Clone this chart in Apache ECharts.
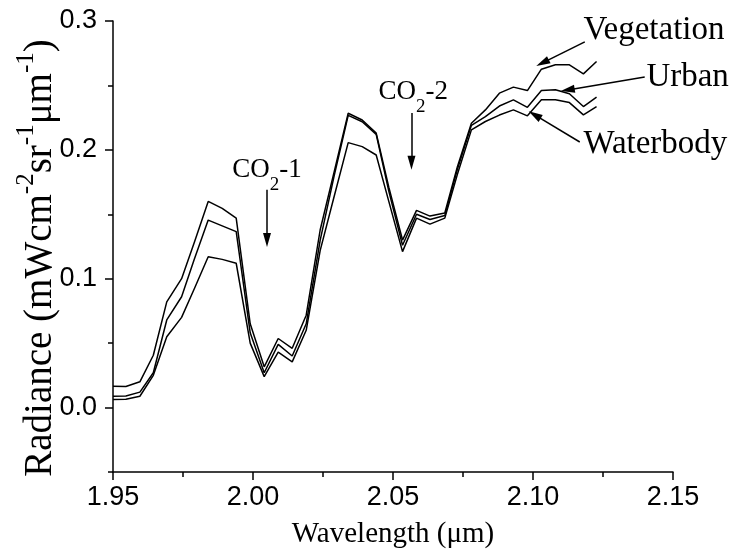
<!DOCTYPE html>
<html>
<head>
<meta charset="utf-8">
<script src="https://cdn.jsdelivr.net/npm/echarts@6/dist/echarts.min.js"></script>
<style>
  html, body { margin: 0; padding: 0; background: #fff; }
  #chart { width: 739px; height: 557px; }
</style>
</head>
<body>
<div id="chart"></div>
<script>
// Spectral samples (µm) and radiance per land-cover type
const wavelength = [1.9500, 1.9546, 1.9596, 1.9644, 1.9692, 1.9745, 1.9790, 1.9840, 1.9890, 1.9940,
                    1.9990, 2.0040, 2.0090, 2.0140, 2.0190, 2.0240, 2.0290, 2.0340, 2.0390, 2.0440,
                    2.0485, 2.0534, 2.0584, 2.0632, 2.0685, 2.0730, 2.0780, 2.0830, 2.0880, 2.0930,
                    2.0980, 2.1030, 2.1080, 2.1130, 2.1180, 2.1227];
const vegetation = [0.0166, 0.0163, 0.0200, 0.0406, 0.0820, 0.1000, 0.1280, 0.1600, 0.1546, 0.1470,
                    0.0650, 0.0316, 0.0536, 0.0460, 0.0717, 0.1380, 0.1830, 0.2284, 0.2232, 0.2130,
                    0.1710, 0.1300, 0.1530, 0.1486, 0.1510, 0.1870, 0.2207, 0.2310, 0.2440, 0.2487,
                    0.2460, 0.2626, 0.2660, 0.2660, 0.2590, 0.2686];
const urban      = [0.0088, 0.0090, 0.0120, 0.0270, 0.0680, 0.0860, 0.1150, 0.1455, 0.1410, 0.1365,
                    0.0580, 0.0270, 0.0490, 0.0400, 0.0650, 0.1300, 0.1800, 0.2268, 0.2218, 0.2120,
                    0.1680, 0.1260, 0.1500, 0.1460, 0.1490, 0.1850, 0.2190, 0.2258, 0.2340, 0.2388,
                    0.2330, 0.2460, 0.2466, 0.2435, 0.2336, 0.2410];
const waterbody  = [0.0062, 0.0065, 0.0088, 0.0250, 0.0550, 0.0700, 0.0920, 0.1170, 0.1150, 0.1120,
                    0.0500, 0.0240, 0.0430, 0.0355, 0.0600, 0.1220, 0.1640, 0.2056, 0.2025, 0.1960,
                    0.1600, 0.1210, 0.1470, 0.1424, 0.1470, 0.1810, 0.2155, 0.2220, 0.2270, 0.2310,
                    0.2264, 0.2388, 0.2388, 0.2367, 0.2271, 0.2336];

// Axis ticks
const xTickLabels = [1.95, 2.00, 2.05, 2.10, 2.15];
const yMajorTicks = [0.0, 0.1, 0.2, 0.3];
const yMinorTicks = [-0.05, 0.05, 0.15, 0.25];

// Annotations: text anchors and arrows (data coordinates)
const bandLabels = [
  { text: '{m|CO}{s|2}{m|-1}', at: [2.0050, 0.1800] },
  { text: '{m|CO}{s|2}{m|-2}', at: [2.0572, 0.2410] }
];
const seriesLabels = [
  { text: 'Vegetation', at: [2.1180, 0.2930] },
  { text: 'Urban',      at: [2.1405, 0.2560] },
  { text: 'Waterbody',  at: [2.1180, 0.2040] }
];
const arrows = [
  [[2.0050, 0.1690], [2.0050, 0.1300]],
  [[2.0566, 0.2287], [2.0566, 0.1900]],
  [[2.1185, 0.2838], [2.1034, 0.2675]],
  [[2.1399, 0.2566], [2.1124, 0.2465]],
  [[2.1167, 0.2061], [2.1006, 0.2271]]
];

const SERIF = 'Liberation Serif';
const SANS = 'Liberation Sans';

const pairs = (ys) => wavelength.map((w, i) => [w, ys[i]]);

const chart = echarts.init(document.getElementById('chart'));

const lineSeries = (name, ys) => ({
  name: name,
  type: 'line',
  data: pairs(ys),
  symbol: 'none',
  lineStyle: { color: '#000', width: 1.5 },
  z: 3
});

const axisStroke = { color: '#000', width: 1.5 };

chart.setOption({
  animation: false,
  backgroundColor: '#fff',
  grid: { left: 113, right: 66, top: 21, bottom: 85, containLabel: false },
  xAxis: {
    type: 'value',
    min: 1.95,
    max: 2.15,
    interval: 0.05,
    axisLine: { onZero: false, lineStyle: axisStroke },
    axisTick: { inside: false, length: 8, lineStyle: axisStroke },
    minorTick: { show: true, splitNumber: 2, length: 5, lineStyle: axisStroke },
    splitLine: { show: false },
    minorSplitLine: { show: false },
    axisLabel: {
      color: '#000', fontFamily: SANS, fontSize: 27, margin: 12,
      showMinLabel: true, showMaxLabel: true,
      customValues: xTickLabels,
      formatter: (v) => v.toFixed(2)
    },
    name: 'Wavelength (μm)',
    nameLocation: 'middle',
    nameGap: 48,
    nameTextStyle: { color: '#000', fontFamily: SERIF, fontSize: 29 }
  },
  yAxis: [
    {
      type: 'value',
      min: -0.05,
      max: 0.3,
      axisLine: { show: true, onZero: false, lineStyle: axisStroke },
      axisTick: { show: true, inside: false, length: 8, customValues: yMajorTicks, lineStyle: axisStroke },
      splitLine: { show: false },
      axisLabel: {
        color: '#000', fontFamily: SANS, fontSize: 27, margin: 16,
        customValues: yMajorTicks,
        formatter: (v) => v.toFixed(1)
      }
    },
    {
      type: 'value',
      min: -0.05,
      max: 0.3,
      position: 'left',
      axisLine: { show: false },
      axisTick: { show: true, inside: false, length: 5, customValues: yMinorTicks, lineStyle: axisStroke },
      axisLabel: { show: false },
      splitLine: { show: false }
    }
  ],
  series: [
    Object.assign(lineSeries('Vegetation', vegetation), {
      markLine: {
        silent: true,
        symbol: ['none', 'triangle'],
        symbolSize: [8, 14],
        label: { show: false },
        lineStyle: { color: '#000', width: 1.5, type: 'solid' },
        emphasis: { disabled: true },
        data: arrows.map(([a, b]) => [{ coord: a }, { coord: b }])
      }
    }),
    lineSeries('Urban', urban),
    lineSeries('Waterbody', waterbody)
  ]
});

// Annotation texts, placed from their data-space anchors
const richBand = {
  m: { fontFamily: SERIF, fontSize: 27, fill: '#000', lineHeight: 38, verticalAlign: 'top' },
  s: { fontFamily: SERIF, fontSize: 19, fill: '#000', lineHeight: 38, verticalAlign: 'bottom' }
};
const graphics = [];
bandLabels.forEach((b) => {
  const p = chart.convertToPixel({ gridIndex: 0 }, b.at);
  graphics.push({
    type: 'text', x: p[0], y: p[1], z: 10,
    style: { text: b.text, rich: richBand, align: 'center', verticalAlign: 'middle' }
  });
});
seriesLabels.forEach((s) => {
  const p = chart.convertToPixel({ gridIndex: 0 }, s.at);
  graphics.push({
    type: 'text', x: p[0], y: p[1], z: 10,
    style: { text: s.text, fill: '#000', font: '33px "' + SERIF + '"', align: 'left', verticalAlign: 'middle' }
  });
});

// Vertical axis title with superscript units
graphics.push({
  type: 'text', x: 37, y: 258, rotation: Math.PI / 2, z: 10,
  style: {
    text: '{m|Radiance (mWcm}{s|-2}{m|sr}{s|-1}{m|μm}{s|-1}{m|)}',
    align: 'center', verticalAlign: 'middle',
    rich: {
      m: { fontFamily: SERIF, fontSize: 39, fill: '#000', lineHeight: 46, verticalAlign: 'bottom' },
      s: { fontFamily: SERIF, fontSize: 25, fill: '#000', lineHeight: 46, verticalAlign: 'top' }
    }
  }
});
chart.setOption({ graphic: graphics });
</script>
</body>
</html>
